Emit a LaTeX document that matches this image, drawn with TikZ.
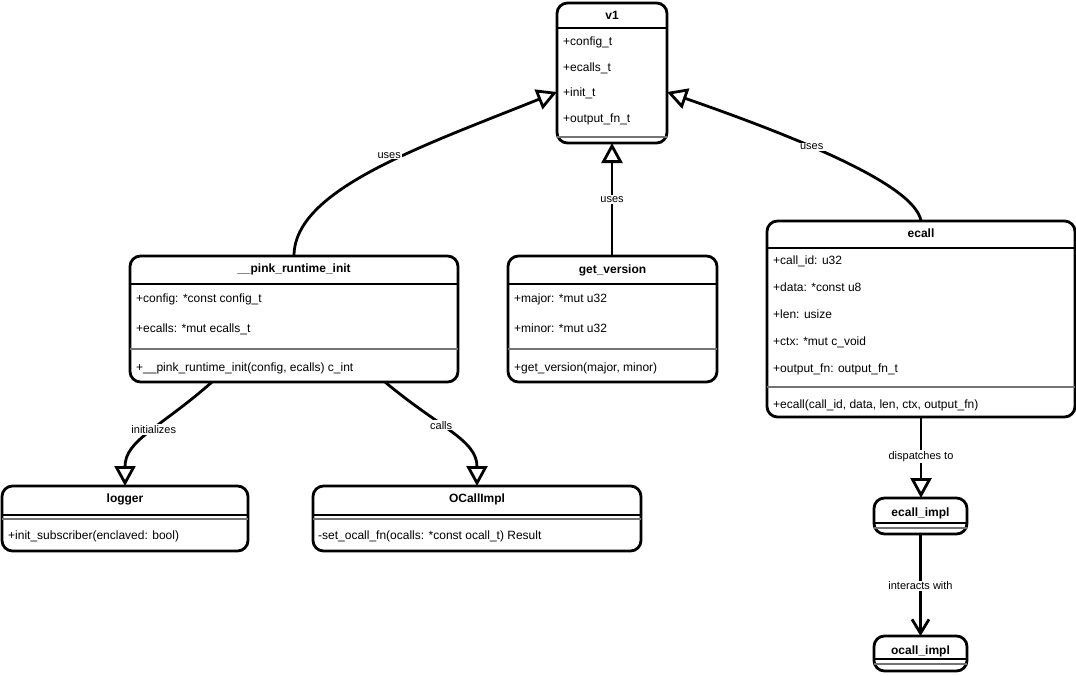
\documentclass[tikz,border=0pt]{standalone}
\usepackage{fontspec}
\setmainfont{Liberation Sans}
\usetikzlibrary{arrows.meta}
\tikzset{
 umlbox/.style={draw=black, line width=2.8pt, rounded corners=10.5pt, fill=white, rectangle, inner sep=0pt, outer sep=0pt, anchor=north west},
 hdrline/.style={draw=black, line width=2.2pt},
 sepline/.style={draw=black!55, line width=1.2pt},
 ttl/.style={font=\fontsize{12}{14}\selectfont\bfseries, anchor=base, inner sep=0pt},
 mbr/.style={font=\fontsize{12}{14}\selectfont, anchor=base west, inner sep=0pt},
 lbl/.style={font=\fontsize{11}{13}\selectfont, fill=white, inner sep=1.2pt},
 gen/.style={draw=black, line width=2.8pt, -{Triangle[open, length=20pt, width=21pt]}},
 assoc/.style={draw=black, line width=2.8pt, -{Straight Barb[length=14pt, width=17pt]}},
}
\begin{document}
\begin{tikzpicture}[x=1pt,y=-1pt]
\useasboundingbox (0,0) rectangle (1076,675);
% boxes
\node[umlbox, minimum width=110pt, minimum height=140pt] (v1) at (557,3) {};
\node[umlbox, minimum width=328pt, minimum height=126pt] (pink) at (130,256) {};
\node[umlbox, minimum width=209pt, minimum height=126pt] (getv) at (508,256) {};
\node[umlbox, minimum width=308pt, minimum height=196pt] (ecall) at (767,221) {};
\node[umlbox, minimum width=246pt, minimum height=65pt] (logger) at (2,486) {};
\node[umlbox, minimum width=328pt, minimum height=65pt] (ocimpl) at (313,486) {};
\node[umlbox, minimum width=93pt, minimum height=36pt] (eimpl) at (874,498) {};
\node[umlbox, minimum width=93pt, minimum height=35pt] (oimpl) at (874,636) {};
% header and separator lines
\draw[hdrline] ([yshift=-25pt]v1.north west) -- ([yshift=-25pt]v1.north east);
\draw[sepline] ([yshift=-134pt]v1.north west) -- ([yshift=-134pt]v1.north east);
\draw[hdrline] ([yshift=-28pt]pink.north west) -- ([yshift=-28pt]pink.north east);
\draw[sepline] ([yshift=-93pt]pink.north west) -- ([yshift=-93pt]pink.north east);
\draw[hdrline] ([yshift=-28pt]getv.north west) -- ([yshift=-28pt]getv.north east);
\draw[sepline] ([yshift=-93pt]getv.north west) -- ([yshift=-93pt]getv.north east);
\draw[hdrline] ([yshift=-27pt]ecall.north west) -- ([yshift=-27pt]ecall.north east);
\draw[sepline] ([yshift=-166pt]ecall.north west) -- ([yshift=-166pt]ecall.north east);
\draw[hdrline] ([yshift=-29pt]logger.north west) -- ([yshift=-29pt]logger.north east);
\draw[sepline] ([yshift=-33pt]logger.north west) -- ([yshift=-33pt]logger.north east);
\draw[hdrline] ([yshift=-29pt]ocimpl.north west) -- ([yshift=-29pt]ocimpl.north east);
\draw[sepline] ([yshift=-33pt]ocimpl.north west) -- ([yshift=-33pt]ocimpl.north east);
\draw[hdrline] ([yshift=-25pt]eimpl.north west) -- ([yshift=-25pt]eimpl.north east);
\draw[sepline] ([yshift=-30pt]eimpl.north west) -- ([yshift=-30pt]eimpl.north east);
\draw[hdrline] ([yshift=-23pt]oimpl.north west) -- ([yshift=-23pt]oimpl.north east);
\draw[sepline] ([yshift=-28pt]oimpl.north west) -- ([yshift=-28pt]oimpl.north east);
% titles
\node[ttl] (v1t) at (612,19.3) {v1};
\node[ttl] (pinkt) at (294,272.3) {\_\_pink\_runtime\_init};
\node[ttl] (getvt) at (612.5,273.3) {get\_version};
\node[ttl] (ecallt) at (921,237.3) {ecall};
\node[ttl] (loggert) at (125,502.3) {logger};
\node[ttl] (ocimplt) at (477,502.3) {OCallImpl};
\node[ttl] (eimplt) at (920.5,516.5) {ecall\_impl};
\node[ttl] (oimplt) at (920.5,654) {ocall\_impl};
% members
\node[mbr] (v1a) at (563,45.3) {+config\_t};
\node[mbr] (v1b) at (563,71.3) {+ecalls\_t};
\node[mbr] (v1c) at (563,96.3) {+init\_t};
\node[mbr] (v1d) at (563,122.3) {+output\_fn\_t};
\node[mbr] (pinka) at (136,302.3) {+config: *const config\_t};
\node[mbr] (pinkb) at (136,332.3) {+ecalls: *mut ecalls\_t};
\node[mbr] (pinkm) at (136,371.3) {+\_\_pink\_runtime\_init(config, ecalls) c\_int};
\node[mbr] (getva) at (514,302.3) {+major: *mut u32};
\node[mbr] (getvb) at (514,332.3) {+minor: *mut u32};
\node[mbr] (getvm) at (514,371.3) {+get\_version(major, minor)};
\node[mbr] (ecalla) at (773,264.3) {+call\_id: u32};
\node[mbr] (ecallb) at (773,291.3) {+data: *const u8};
\node[mbr] (ecallc) at (773,318.3) {+len: usize};
\node[mbr] (ecalld) at (773,345.3) {+ctx: *mut c\_void};
\node[mbr] (ecalle) at (773,372.3) {+output\_fn: output\_fn\_t};
\node[mbr] (ecallm) at (773,408.3) {+ecall(call\_id, data, len, ctx, output\_fn)};
\node[mbr] (loggerm) at (8,539.3) {+init\_subscriber(enclaved: bool)};
\node[mbr] (ocimplm) at (318,539.3) {-set\_ocall\_fn(ocalls: *const ocall\_t) Result};
% connectors
\draw[gen] (pink.north) .. controls +(0,-66) and +(-137,55) .. ([yshift=-89pt]v1.north west) node[lbl,pos=0.55,yshift=7pt] {uses};
\draw[gen] (ecall.north) .. controls +(-6,-36) and +(132,46) .. ([yshift=-89pt]v1.north east) node[lbl,pos=0.6] {uses};
\draw[gen] (v1.south |- getv.north) -- (v1.south) node[lbl,pos=0.5] {uses};
\draw[gen] ([xshift=-82pt]pink.south) .. controls +(-52,46) and +(0,-46) .. (logger.north) node[lbl,pos=0.45] {initializes};
\draw[gen] ([xshift=91pt]pink.south) .. controls +(55,46) and +(0,-46) .. (ocimpl.north) node[lbl,pos=0.4] {calls};
\draw[gen] (ecall.south) -- (ecall.south |- eimpl.north) node[lbl,pos=0.49] {dispatches to};
\draw[assoc] (eimpl.south) -- (oimpl.north) node[lbl,pos=0.51] {interacts with};
\end{tikzpicture}
\end{document}
